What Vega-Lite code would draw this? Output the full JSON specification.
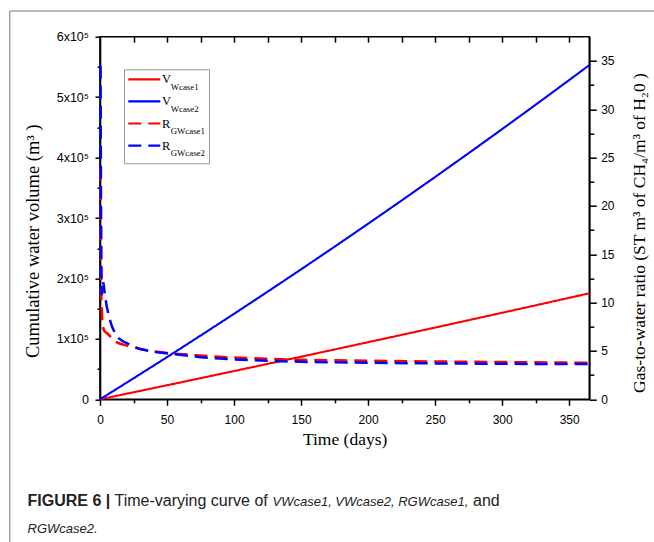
{
  "$schema": "https://vega.github.io/schema/vega-lite/v6.json",
  "autosize": {"type": "none"},
  "width": 489.3,
  "height": 362.6,
  "padding": {"left": 100, "top": 36.7, "right": 64.7, "bottom": 142.7},
  "background": "white",
  "datasets": {
    "vol": [
      {"series": "VWcase1", "t": 0, "v": 0},
      {"series": "VWcase1", "t": 25, "v": 11600},
      {"series": "VWcase1", "t": 50, "v": 23250},
      {"series": "VWcase1", "t": 75, "v": 34970},
      {"series": "VWcase1", "t": 100, "v": 46750},
      {"series": "VWcase1", "t": 125, "v": 58590},
      {"series": "VWcase1", "t": 150, "v": 70490},
      {"series": "VWcase1", "t": 175, "v": 82460},
      {"series": "VWcase1", "t": 200, "v": 94480},
      {"series": "VWcase1", "t": 225, "v": 106570},
      {"series": "VWcase1", "t": 250, "v": 118710},
      {"series": "VWcase1", "t": 275, "v": 130920},
      {"series": "VWcase1", "t": 300, "v": 143190},
      {"series": "VWcase1", "t": 325, "v": 155520},
      {"series": "VWcase1", "t": 350, "v": 167910},
      {"series": "VWcase1", "t": 365, "v": 175380},
      {"series": "VWcase2", "t": 0, "v": 0},
      {"series": "VWcase2", "t": 25, "v": 34650},
      {"series": "VWcase2", "t": 50, "v": 69780},
      {"series": "VWcase2", "t": 75, "v": 105390},
      {"series": "VWcase2", "t": 100, "v": 141460},
      {"series": "VWcase2", "t": 125, "v": 178010},
      {"series": "VWcase2", "t": 150, "v": 215030},
      {"series": "VWcase2", "t": 175, "v": 252530},
      {"series": "VWcase2", "t": 200, "v": 290500},
      {"series": "VWcase2", "t": 225, "v": 328940},
      {"series": "VWcase2", "t": 250, "v": 367860},
      {"series": "VWcase2", "t": 275, "v": 407250},
      {"series": "VWcase2", "t": 300, "v": 447120},
      {"series": "VWcase2", "t": 325, "v": 487460},
      {"series": "VWcase2", "t": 350, "v": 528270},
      {"series": "VWcase2", "t": 365, "v": 552990}
    ],
    "ratio": [
      {"series": "RGWcase1", "t": 0.4, "r": 24},
      {"series": "RGWcase1", "t": 0.7, "r": 16},
      {"series": "RGWcase1", "t": 1, "r": 10.5},
      {"series": "RGWcase1", "t": 1.5, "r": 8.6},
      {"series": "RGWcase1", "t": 2, "r": 7.6},
      {"series": "RGWcase1", "t": 3, "r": 7.1},
      {"series": "RGWcase1", "t": 4.5, "r": 6.9},
      {"series": "RGWcase1", "t": 6, "r": 6.75},
      {"series": "RGWcase1", "t": 8, "r": 6.45},
      {"series": "RGWcase1", "t": 11, "r": 6.0},
      {"series": "RGWcase1", "t": 15, "r": 5.75},
      {"series": "RGWcase1", "t": 20, "r": 5.55},
      {"series": "RGWcase1", "t": 25, "r": 5.38},
      {"series": "RGWcase1", "t": 30, "r": 5.2},
      {"series": "RGWcase1", "t": 40, "r": 4.95},
      {"series": "RGWcase1", "t": 56, "r": 4.72},
      {"series": "RGWcase1", "t": 75, "r": 4.52},
      {"series": "RGWcase1", "t": 100, "r": 4.32},
      {"series": "RGWcase1", "t": 125, "r": 4.18},
      {"series": "RGWcase1", "t": 150, "r": 4.08},
      {"series": "RGWcase1", "t": 175, "r": 4.04},
      {"series": "RGWcase1", "t": 200, "r": 3.99},
      {"series": "RGWcase1", "t": 250, "r": 3.91},
      {"series": "RGWcase1", "t": 300, "r": 3.85},
      {"series": "RGWcase1", "t": 365, "r": 3.78},
      {"series": "RGWcase2", "t": 0.4, "r": 34.5},
      {"series": "RGWcase2", "t": 0.7, "r": 22},
      {"series": "RGWcase2", "t": 1, "r": 13.5},
      {"series": "RGWcase2", "t": 1.3, "r": 10.8},
      {"series": "RGWcase2", "t": 1.8, "r": 11.6},
      {"series": "RGWcase2", "t": 2.5, "r": 12.1},
      {"series": "RGWcase2", "t": 3.5, "r": 11.0},
      {"series": "RGWcase2", "t": 5, "r": 9.6},
      {"series": "RGWcase2", "t": 7, "r": 8.4},
      {"series": "RGWcase2", "t": 9, "r": 7.5},
      {"series": "RGWcase2", "t": 11, "r": 6.9},
      {"series": "RGWcase2", "t": 14, "r": 6.3},
      {"series": "RGWcase2", "t": 17, "r": 6.0},
      {"series": "RGWcase2", "t": 20, "r": 5.8},
      {"series": "RGWcase2", "t": 25, "r": 5.45},
      {"series": "RGWcase2", "t": 30, "r": 5.2},
      {"series": "RGWcase2", "t": 40, "r": 4.9},
      {"series": "RGWcase2", "t": 56, "r": 4.65},
      {"series": "RGWcase2", "t": 75, "r": 4.35},
      {"series": "RGWcase2", "t": 100, "r": 4.13},
      {"series": "RGWcase2", "t": 125, "r": 3.98},
      {"series": "RGWcase2", "t": 150, "r": 3.88},
      {"series": "RGWcase2", "t": 175, "r": 3.82},
      {"series": "RGWcase2", "t": 200, "r": 3.78},
      {"series": "RGWcase2", "t": 250, "r": 3.71},
      {"series": "RGWcase2", "t": 300, "r": 3.67},
      {"series": "RGWcase2", "t": 365, "r": 3.64}
    ]
  },
  "config": {
    "view": {"stroke": "black", "strokeWidth": 1.6},
    "axis": {
      "grid": false,
      "domainColor": "black",
      "domainWidth": 1.6,
      "tickColor": "black",
      "tickWidth": 1.5,
      "labelFont": "Liberation Sans",
      "labelFontSize": 12,
      "labelColor": "black",
      "labelFlush": false,
      "labelOverlap": false,
      "titleFont": "Liberation Serif",
      "titleFontWeight": "normal",
      "titleColor": "black"
    }
  },
  "resolve": {
    "scale": {"y": "independent"},
    "axis": {"x": "independent", "y": "independent"}
  },
  "layer": [
    {
      "data": {"name": "vol"},
      "mark": {"type": "line", "strokeWidth": 2.1},
      "encoding": {
        "x": {
          "field": "t", "type": "quantitative",
          "scale": {"domain": [0, 365], "nice": false, "zero": false},
          "axis": {
            "orient": "bottom",
            "values": [0, 50, 100, 150, 200, 250, 300, 350],
            "tickSize": 6, "labelPadding": 9,
            "title": "Time (days)", "titleFontSize": 17.5,
            "titleX": 244.65, "titleY": 45, "titleAlign": "center", "titleBaseline": "alphabetic"
          }
        },
        "y": {
          "field": "v", "type": "quantitative",
          "scale": {"domain": [0, 600000], "nice": false},
          "axis": {
            "orient": "left",
            "values": [0, 100000, 200000, 300000, 400000, 500000, 600000],
            "tickSize": 5, "labelPadding": 6.5, "labelFontSize": 12.5,
            "labelExpr": "datum.value === 0 ? '0' : (datum.value / 100000) + 'x10⁵'",
            "title": "Cumulative water volume (m³ )", "titleFontSize": 18.5,
            "titleAngle": 270, "titleX": -61.5, "titleY": 204,
            "titleAlign": "center", "titleBaseline": "alphabetic"
          }
        },
        "color": {
          "field": "series", "type": "nominal",
          "scale": {"domain": ["VWcase1", "VWcase2", "RGWcase1", "RGWcase2"], "range": ["#ff0000", "#0000ff", "#ff0000", "#0000ff"]},
          "legend": {
            "orient": "none", "legendX": 32.8, "legendY": 31.1, "title": null, "padding": 0,
            "symbolType": "M-1.6,0H1.6", "symbolSize": 400, "symbolStrokeWidth": 2.2,
            "labelFont": "Liberation Serif", "labelFontSize": 12.5, "labelColor": "black",
            "labelOffset": 6.2, "labelBaseline": "middle",
            "labelExpr": "substring(datum.label, 0, 1)",
            "rowPadding": 4.1
          }
        },
        "strokeDash": {
          "field": "series", "type": "nominal",
          "scale": {"domain": ["VWcase1", "VWcase2", "RGWcase1", "RGWcase2"], "range": [[1, 0], [1, 0], [13, 7], [13, 7]]}
        }
      }
    },
    {
      "data": {"name": "ratio"},
      "mark": {"type": "line", "strokeWidth": 2.5},
      "encoding": {
        "x": {
          "field": "t", "type": "quantitative",
          "axis": {
            "orient": "bottom", "domain": false, "ticks": false, "labels": false,
            "title": "Time-varying curve of", "titleFont": "Liberation Sans", "titleFontSize": 16,
            "titleColor": "#222", "titleX": 14, "titleY": 106.2, "titleAlign": "left", "titleBaseline": "alphabetic"
          }
        },
        "y": {
          "field": "r", "type": "quantitative",
          "scale": {"domain": [0, 37.5], "nice": false},
          "axis": {
            "orient": "right",
            "values": [0, 5, 10, 15, 20, 25, 30, 35],
            "tickSize": 7, "labelPadding": 4.4,
            "title": "Gas-to-water ratio (ST m³ of CH₄/m³ of H₂0 )", "titleFontSize": 17.5,
            "titleAngle": 270, "titleX": 55.2, "titleY": 195.8,
            "titleAlign": "center", "titleBaseline": "alphabetic"
          }
        },
        "color": {"field": "series", "type": "nominal"},
        "strokeDash": {"field": "series", "type": "nominal"}
      }
    },
    {
      "data": {"name": "vol"},
      "mark": {"type": "point", "opacity": 0},
      "encoding": {
        "x": {
          "field": "t", "type": "quantitative",
          "axis": {
            "orient": "bottom",
            "values": [25, 75, 125, 175, 225, 275, 325],
            "tickSize": 3.5, "labels": false, "domain": false,
            "title": "FIGURE 6 |", "titleFont": "Liberation Sans", "titleFontWeight": "bold", "titleFontSize": 16,
            "titleColor": "#222", "titleX": -73, "titleY": 106.2, "titleAlign": "left", "titleBaseline": "alphabetic"
          }
        },
        "y": {
          "field": "v", "type": "quantitative",
          "scale": {"domain": [0, 600000], "nice": false},
          "axis": {
            "orient": "left",
            "values": [50000, 150000, 250000, 350000, 450000, 550000],
            "tickSize": 3, "labels": false, "domain": false,
            "title": "and", "titleAngle": 0, "titleFont": "Liberation Sans", "titleFontSize": 16,
            "titleColor": "#222", "titleX": 372.5, "titleY": 468.8, "titleAlign": "left", "titleBaseline": "alphabetic"
          }
        },
        "shape": {
          "field": "series", "type": "nominal",
          "scale": {"domain": ["RGWcase2", "RGWcase1", "VWcase2", "VWcase1"]},
          "legend": {
            "orient": "none", "legendX": 24, "legendY": 32.6, "title": null, "padding": 4,
            "values": ["VWcase1", "VWcase2", "RGWcase1", "RGWcase2"],
            "symbolType": "circle", "symbolSize": 400, "symbolStrokeWidth": 0, "symbolOpacity": 0,
            "labelFont": "Liberation Serif", "labelFontSize": 8.8, "labelColor": "black",
            "labelOffset": 22.7, "labelBaseline": "top",
            "labelExpr": "substring(datum.label, 1)",
            "rowPadding": 2.1,
            "strokeColor": "#999999"
          }
        },
        "size": {
          "field": "series", "type": "nominal",
          "scale": {"domain": ["VWcase2", "VWcase1", "RGWcase2", "RGWcase1"], "range": [10, 20, 30, 40]},
          "legend": {
            "orient": "none", "legendX": -90.7, "legendY": -26.2, "title": null, "padding": 400,
            "values": ["VWcase1"], "symbolOpacity": 0, "labelOpacity": 0, "labelFontSize": 2,
            "labelExpr": "''",
            "strokeColor": "#777777"
          }
        }
      }
    },
    {
      "data": {"name": "ratio"},
      "mark": {"type": "point", "opacity": 0},
      "encoding": {
        "x": {
          "field": "t", "type": "quantitative",
          "axis": {
            "orient": "top",
            "values": [25, 50, 75, 100, 125, 150, 175, 200, 225, 250, 275, 300, 325, 350],
            "tickSize": -5.5, "labels": false, "domain": false,
            "title": "VWcase1, VWcase2, RGWcase1,", "titleFont": "Liberation Sans", "titleFontStyle": "italic", "titleFontSize": 13,
            "titleColor": "#222", "titleX": 172, "titleY": 468.8, "titleAlign": "left", "titleBaseline": "alphabetic"
          }
        },
        "y": {
          "field": "r", "type": "quantitative",
          "scale": {"domain": [0, 37.5], "nice": false},
          "axis": {
            "orient": "right",
            "values": [2.5, 7.5, 12.5, 17.5, 22.5, 27.5, 32.5],
            "tickSize": 4.5, "labels": false, "domain": false,
            "title": "RGWcase2.", "titleAngle": 0, "titleFont": "Liberation Sans", "titleFontStyle": "italic", "titleFontSize": 13,
            "titleColor": "#222", "titleX": -562.3, "titleY": 495.3, "titleAlign": "left", "titleBaseline": "alphabetic"
          }
        }
      }
    }
  ]
}
